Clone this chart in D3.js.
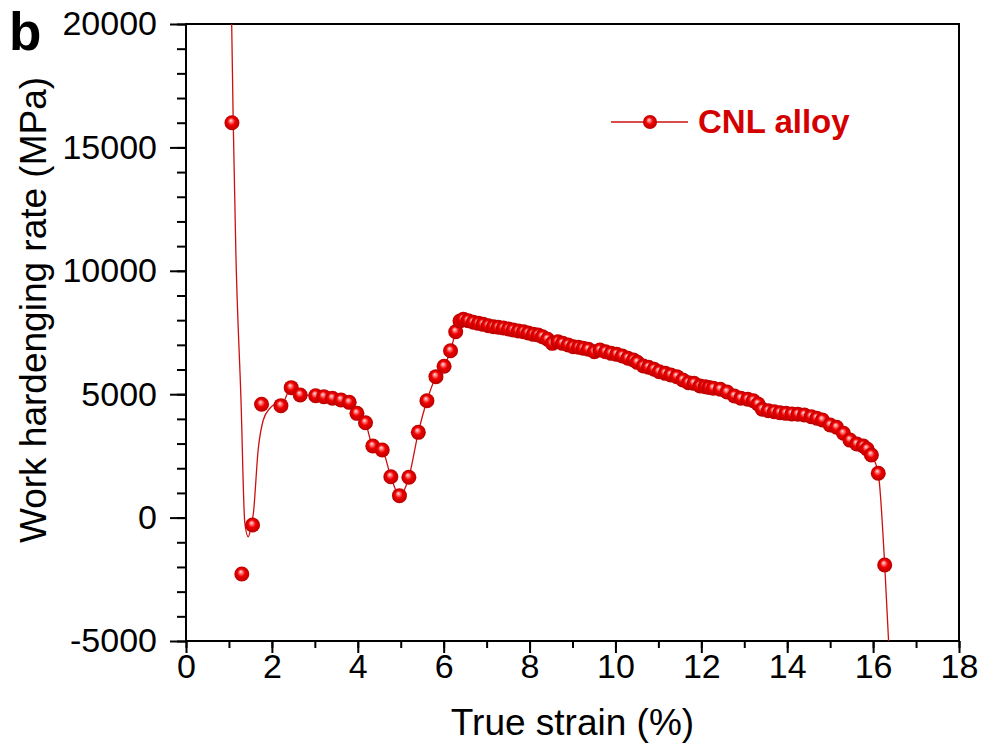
<!doctype html>
<html lang="en">
<head>
<meta charset="utf-8">
<title>Work hardening rate - CNL alloy</title>
<script src="https://cdn.jsdelivr.net/npm/d3@7"></script>
<style>
  body{margin:0;background:#fff}
  svg{display:block;font-family:"Liberation Sans",Arial,sans-serif}
</style>
</head>
<body>
<div id="chart"></div>
<script>
// measured points: true strain (%) and work hardening rate (MPa)
var strain = [1.07, 1.30, 1.55, 1.76, 2.21, 2.45, 2.66, 3.02, 3.21, 3.41, 3.61, 3.80, 3.98, 4.18, 4.35, 4.57, 4.77, 4.97,
  5.19, 5.41, 5.61, 5.82, 6.01, 6.16, 6.28, 6.38, 6.46, 6.57, 6.69, 6.81, 6.92, 7.04, 7.16, 7.27, 7.39, 7.51, 7.62, 7.74,
  7.86, 7.97, 8.09, 8.20, 8.30, 8.42, 8.53, 8.66, 8.77, 8.90, 9.02, 9.14, 9.25, 9.37, 9.51, 9.64, 9.77, 9.90, 10.03, 10.16,
  10.29, 10.42, 10.51, 10.65, 10.77, 10.90, 11.02, 11.16, 11.29, 11.43, 11.57, 11.70, 11.83, 11.97, 12.09, 12.18, 12.28,
  12.44, 12.60, 12.77, 12.92, 13.08, 13.21, 13.32, 13.42, 13.56, 13.70, 13.83, 13.97, 14.11, 14.25, 14.40, 14.56, 14.69,
  14.82, 15.00, 15.15, 15.31, 15.46, 15.62, 15.77, 15.86, 15.96, 16.12, 16.27];
var rate = [16000, -2285, -300, 4590, 4535, 5265, 4970, 4940, 4900, 4835, 4765, 4670, 4225, 3845, 2900, 2740, 1655, 890,
  1635, 3455, 4735, 5710, 6130, 6760, 7530, 7965, 8035, 7980, 7915, 7870, 7830, 7775, 7735, 7710, 7680, 7640, 7600, 7560,
  7530, 7480, 7425, 7400, 7330, 7225, 7060, 7125, 7060, 6995, 6925, 6900, 6860, 6820, 6720, 6790, 6720, 6655, 6615, 6550,
  6455, 6385, 6290, 6140, 6090, 6010, 5910, 5845, 5780, 5710, 5575, 5465, 5440, 5330, 5305, 5270, 5240,
  5200, 5090, 4925, 4835, 4795, 4735, 4605, 4390, 4330, 4290, 4250, 4225, 4200, 4185, 4155, 4090, 4025,
  3955, 3750, 3660, 3415, 3140, 2980, 2900, 2780, 2535, 1795, -1920];

// the smoothed curve leaves the points at both ends
var fitHeadStrain = [1.05, 1.10, 1.16, 1.28, 1.37, 1.45, 1.50, 1.57, 1.68, 1.80, 1.96, 2.11];
var fitHeadRate = [21500, 16000, 10800, 4800, -230, -780, -500, 185, 2740, 3955, 4440, 4600];
var fitTailStrain = [16.36, 16.39];
var fitTailRate = [-5000, -6200];

var xTicks = [0, 2, 4, 6, 8, 10, 12, 14, 16, 18];
var yTicks = [-5000, 0, 5000, 10000, 15000, 20000];
var seriesName = "CNL alloy";

var W = 982, H = 747,
    pLeft = 186, pRight = 959, pTop = 24, pBottom = 641,
    lineColor = "#cc1010";

var svg = d3.select("#chart").append("svg").attr("width", W).attr("height", H),
    defs = svg.append("defs");

var x = d3.scaleLinear().domain([0, 18]).range([pLeft, pRight]),
    y = d3.scaleLinear().domain([-5000, 20000]).range([pBottom, pTop]);

var grad = defs.append("radialGradient").attr("id", "ball")
    .attr("cx", "50%").attr("cy", "50%").attr("r", "50%").attr("fx", "42%").attr("fy", "34%");
grad.append("stop").attr("offset", "0%").attr("stop-color", "#ffe6e6");
grad.append("stop").attr("offset", "22%").attr("stop-color", "#ff7a7a");
grad.append("stop").attr("offset", "50%").attr("stop-color", "#f00000");
grad.append("stop").attr("offset", "100%").attr("stop-color", "#b80000");

defs.append("clipPath").attr("id", "plot").append("rect")
    .attr("x", pLeft).attr("y", pTop).attr("width", pRight - pLeft).attr("height", pBottom - pTop);

function styleAxis(g) {
  g.select(".domain").remove();
  g.selectAll("line").attr("stroke-width", 2);
  g.selectAll("text").attr("font-size", 34).attr("fill", "#000").attr("font-family", "Liberation Sans, Arial, sans-serif");
}

// axes: minor ticks first, then labelled major ticks
svg.append("g").attr("transform", "translate(0," + pBottom + ")")
    .call(d3.axisBottom(x).ticks(18).tickSize(7).tickFormat(""))
    .call(styleAxis);
svg.append("g").attr("transform", "translate(0," + pBottom + ")")
    .call(d3.axisBottom(x).tickValues(xTicks).tickSize(12).tickPadding(1))
    .call(styleAxis);
svg.append("g").attr("transform", "translate(" + pLeft + ",0)")
    .call(d3.axisLeft(y).ticks(25).tickSize(9).tickFormat(""))
    .call(styleAxis);
svg.append("g").attr("transform", "translate(" + pLeft + ",0)")
    .call(d3.axisLeft(y).tickValues(yTicks).tickSize(16).tickPadding(13).tickFormat(function (d) { return String(d); }))
    .call(styleAxis);

svg.append("rect").attr("x", pLeft).attr("y", pTop).attr("width", pRight - pLeft).attr("height", pBottom - pTop)
    .attr("fill", "none").attr("stroke", "#000").attr("stroke-width", 2);

// smoothed curve
var linePts = d3.zip(fitHeadStrain, fitHeadRate)
    .concat(d3.zip(strain, rate).filter(function (d) { return d[0] >= 2.2; }))
    .concat(d3.zip(fitTailStrain, fitTailRate));

var line = d3.line().x(function (d) { return x(d[0]); }).y(function (d) { return y(d[1]); })
    .curve(d3.curveMonotoneX);

svg.append("path").datum(linePts).attr("clip-path", "url(#plot)")
    .attr("d", line).attr("fill", "none").attr("stroke", lineColor).attr("stroke-width", 1.3);

svg.append("g").selectAll("circle").data(d3.zip(strain, rate)).enter().append("circle")
    .attr("cx", function (d) { return x(d[0]); })
    .attr("cy", function (d) { return y(d[1]); })
    .attr("r", 7.5)
    .attr("fill", "url(#ball)");

// legend
var lg = svg.append("g").attr("transform", "translate(611,122)");
lg.append("line").attr("x1", 0).attr("x2", 77).attr("stroke", lineColor).attr("stroke-width", 1.3);
lg.append("circle").attr("cx", 39).attr("r", 7).attr("fill", "url(#ball)");
lg.append("text").attr("x", 87).attr("y", 11).attr("font-size", 33).attr("font-weight", "bold")
    .attr("fill", "#d40000").text(seriesName);

// titles
svg.append("text").attr("x", (pLeft + pRight) / 2).attr("y", 735).attr("text-anchor", "middle")
    .attr("font-size", 37).text("True strain (%)");
svg.append("text").attr("transform", "translate(46,310) rotate(-90)")
    .attr("text-anchor", "middle").attr("font-size", 37).text("Work hardenging rate (MPa)");
svg.append("text").attr("x", 9).attr("y", 50).attr("font-size", 53).attr("font-weight", "bold").text("b");
</script>
</body>
</html>
